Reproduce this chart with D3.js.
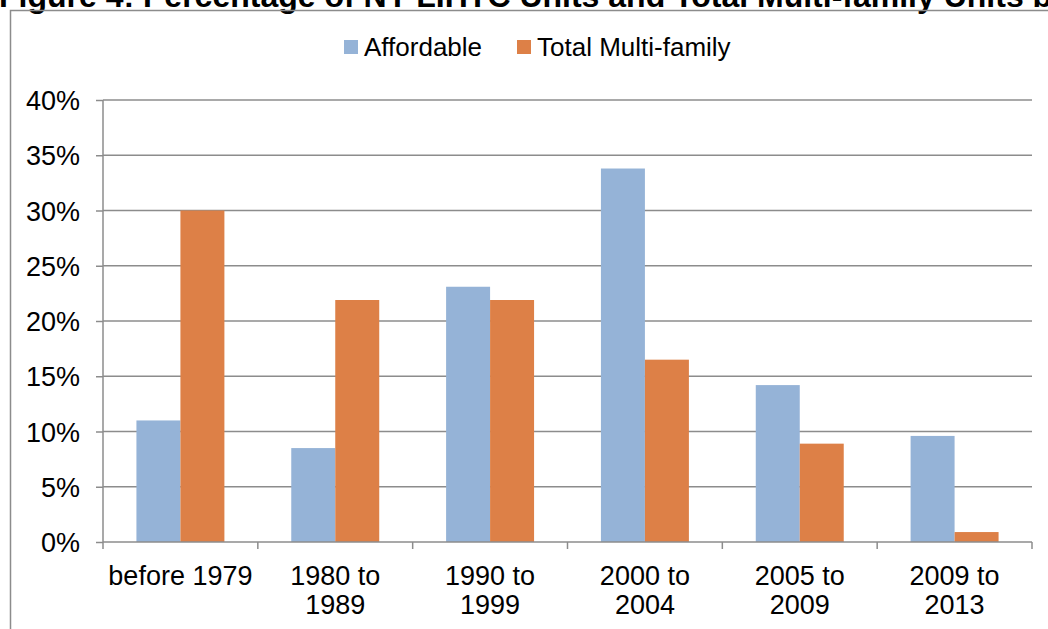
<!DOCTYPE html>
<html>
<head>
<meta charset="utf-8">
<script src="https://cdn.jsdelivr.net/npm/d3@7"></script>
<style>
  body { margin: 0; background: #fff; overflow: hidden; }
  svg { display: block; font-family: Arial, "Liberation Sans", sans-serif; }
</style>
</head>
<body>
<svg id="chart" width="1048" height="629"></svg>
<script>
// values (percent)
var categories = [['before 1979'], ['1980 to', '1989'], ['1990 to', '1999'],
                  ['2000 to', '2004'], ['2005 to', '2009'], ['2009 to', '2013']];
var affordable = [11.0, 8.5, 23.1, 33.8, 14.2, 9.6];
var totalMulti = [30.0, 21.9, 21.9, 16.5, 8.9, 0.9];
var seriesNames = ['Affordable', 'Total Multi-family'];
var seriesColors = ['#95b3d7', '#dd8047'];
var yTicks = [0, 5, 10, 15, 20, 25, 30, 35, 40];

var svg = d3.select('#chart');
var margin = { left: 103, right: 1032, top: 100, bottom: 542 };
var fs = 27;

// title, cut off at the top like the source
svg.append('text')
  .attr('x', -1).attr('y', 7)
  .attr('font-size', 32).attr('font-weight', 'bold')
  .text('Figure 4: Percentage of NY LIHTC Units and Total Multi-family Units by Year Built');

// chart frame
svg.append('rect')
  .attr('x', 10.5).attr('y', 10.5)
  .attr('width', 1100).attr('height', 700)
  .attr('fill', 'none').attr('stroke', '#8c8c8c').attr('stroke-width', 1.5);

var x = d3.scaleBand()
  .domain(d3.range(categories.length))
  .range([margin.left, margin.right]);

var xInner = d3.scaleBand()
  .domain([0, 1])
  .range([0, x.bandwidth()])
  .paddingOuter(0.76);

var y = d3.scaleLinear().domain([0, 40]).range([margin.bottom, margin.top]);

// gridlines
svg.append('g')
  .selectAll('line')
  .data(yTicks.slice(1))
  .enter().append('line')
  .attr('x1', margin.left).attr('x2', margin.right)
  .attr('y1', d => y(d)).attr('y2', d => y(d))
  .attr('stroke', '#8c8c8c').attr('stroke-width', 1.5);

// bars
var data = [affordable, totalMulti];
var groups = svg.append('g')
  .selectAll('g')
  .data(categories.map((c, i) => i))
  .enter().append('g')
  .attr('transform', i => 'translate(' + x(i) + ',0)');

groups.selectAll('rect')
  .data(i => data.map((s, k) => ({ k: k, v: s[i] })))
  .enter().append('rect')
  .attr('x', d => xInner(d.k))
  .attr('width', xInner.bandwidth())
  .attr('y', d => y(d.v))
  .attr('height', d => y(0) - y(d.v))
  .attr('fill', d => seriesColors[d.k]);

// y axis
var yAxis = svg.append('g')
  .attr('transform', 'translate(' + margin.left + ',0)')
  .call(d3.axisLeft(y).tickValues(yTicks).tickFormat(d => d + '%').tickSize(7).tickPadding(16));
yAxis.select('.domain').attr('stroke', '#8c8c8c').attr('stroke-width', 1.5)
  .attr('d', 'M0,' + margin.top + 'V' + margin.bottom);
yAxis.selectAll('.tick line').attr('stroke', '#8c8c8c').attr('stroke-width', 1.5);
yAxis.selectAll('.tick text').attr('font-size', fs).attr('fill', '#000')
  .attr('font-family', 'Arial, "Liberation Sans", sans-serif').attr('dy', '0.36em');

// x axis
var xAxisG = svg.append('g').attr('transform', 'translate(0,' + margin.bottom + ')');
xAxisG.append('line')
  .attr('x1', margin.left).attr('x2', margin.right)
  .attr('stroke', '#8c8c8c').attr('stroke-width', 1.5);
var xTickPos = d3.range(categories.length + 1).map(i => margin.left + i * x.step());
xAxisG.selectAll('.xt')
  .data(xTickPos)
  .enter().append('line')
  .attr('x1', d => d).attr('x2', d => d)
  .attr('y1', 0).attr('y2', 7)
  .attr('stroke', '#8c8c8c').attr('stroke-width', 1.5);

var xl = svg.append('g').selectAll('text')
  .data(categories)
  .enter().append('text')
  .attr('text-anchor', 'middle')
  .attr('font-size', fs)
  .attr('transform', (d, i) => 'translate(' + (x(i) + x.bandwidth() / 2) + ',585)');
xl.selectAll('tspan')
  .data(d => d)
  .enter().append('tspan')
  .attr('x', 0)
  .attr('y', (d, j) => j * 28.5)
  .text(d => d);

// legend
var legendX = [344, 517];
var lg = svg.append('g').selectAll('g')
  .data(seriesNames)
  .enter().append('g')
  .attr('transform', (d, i) => 'translate(' + legendX[i] + ',40)');
lg.append('rect')
  .attr('width', 14).attr('height', 14)
  .attr('fill', (d, i) => seriesColors[i]);
lg.append('text')
  .attr('x', 20).attr('y', 16)
  .attr('font-size', 26)
  .text(d => d);
</script>
</body>
</html>
